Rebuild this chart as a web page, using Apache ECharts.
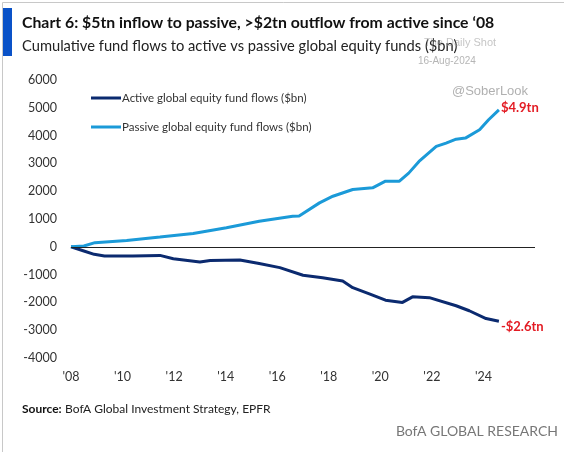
<!DOCTYPE html>
<html><head><meta charset="utf-8">
<script src="https://cdn.jsdelivr.net/npm/echarts@6/dist/echarts.min.js"></script>
<style>html,body{margin:0;padding:0;background:#fff}#c{width:564px;height:452px}</style>
</head><body><div id="c"></div>
<script>
const activeX = [2008.0,2008.5,2008.9,2009.3,2010.4,2011.45,2011.97,2013.0,2013.4,2014.55,2015.3,2016.1,2017.0,2017.76,2018.54,2018.93,2019.6,2020.2,2020.86,2021.25,2021.9,2022.94,2023.45,2024.1,2024.6];
const activeY = [0,-150,-270,-330,-330,-310,-430,-550,-490,-475,-600,-750,-1025,-1110,-1230,-1470,-1700,-1920,-2000,-1800,-1830,-2120,-2300,-2580,-2680];
const passiveX = [2008.0,2008.5,2008.93,2010.16,2011.45,2012.74,2014.03,2015.3,2016.6,2016.85,2017.64,2018.16,2018.93,2019.7,2020.2,2020.74,2021.1,2021.5,2022.17,2022.55,2022.94,2023.3,2023.85,2024.2,2024.6];
const passiveY = [0,30,150,230,350,480,685,920,1100,1110,1580,1820,2060,2120,2360,2360,2650,3070,3610,3730,3870,3910,4210,4570,4925];
const yTicks = [-4000,-3000,-2000,-1000,0,1000,2000,3000,4000,5000,6000];
const xTickYears = [2008,2010,2012,2014,2016,2018,2020,2022,2024];
const seriesNames = ['Active global equity fund flows ($bn)','Passive global equity fund flows ($bn)'];

const pair = (xs, ys) => xs.map((x, i) => [x, ys[i]]);
const FONT = 'Lato, "Open Sans", sans-serif';
const chart = echarts.init(document.getElementById('c'));
chart.setOption({
  animation: false,
  backgroundColor: '#fff',
  textStyle: {fontFamily: FONT},
  grid: {left: 71, right: 29, top: 80, bottom: 94, containLabel: false},
  xAxis: {
    type: 'value', min: 2008, max: 2026, interval: 2,
    axisLine: {show: false}, axisTick: {show: false}, splitLine: {show: false},
    axisLabel: {
      color: '#333', fontSize: 12.5, margin: 12, fontFamily: FONT,
      formatter: v => xTickYears.includes(v) ? "'" + String(v).slice(2) : ''
    }
  },
  yAxis: {
    type: 'value', min: yTicks[0], max: yTicks[yTicks.length - 1], interval: 1000,
    axisLine: {show: false}, axisTick: {show: false}, splitLine: {show: false},
    axisLabel: {color: '#333', fontSize: 12.5, margin: 14, fontFamily: FONT, formatter: v => String(v)}
  },
  legend: {
    orient: 'vertical', left: 86, top: 87, itemGap: 17, itemWidth: 30, itemHeight: 3,
    icon: 'rect', textStyle: {fontSize: 11.5, color: '#333', fontFamily: FONT, padding: [0,0,0,-4]},
    data: seriesNames
  },
  series: [
    {
      name: seriesNames[0], type: 'line', data: pair(activeX, activeY), showSymbol: false,
      lineStyle: {width: 3, color: '#0b2a6f'}, itemStyle: {color: '#0b2a6f'}, z: 3,
      markLine: {
        silent: true, symbol: 'none', label: {show: false},
        lineStyle: {color: '#222', width: 1, type: 'solid'},
        data: [{yAxis: 0}]
      },
      endLabel: {show: true, formatter: '-$2.6tn', color: '#e31b23', fontSize: 13, fontWeight: 'bold', distance: 2, offset: [0, 6], fontFamily: FONT}
    },
    {
      name: seriesNames[1], type: 'line', data: pair(passiveX, passiveY), showSymbol: false,
      lineStyle: {width: 3, color: '#1b9ad8'}, itemStyle: {color: '#1b9ad8'}, z: 4,
      endLabel: {show: true, formatter: '$4.9tn', color: '#e31b23', fontSize: 13, fontWeight: 'bold', distance: 2, offset: [0, -2], fontFamily: FONT}
    }
  ],
  graphic: [
    {type: 'rect', left: 0, top: 0, shape: {width: 563, height: 451}, style: {fill: 'none', stroke: '#c8c8c8', lineWidth: 1}, silent: true},
    {type: 'rect', left: 3, top: 8, shape: {width: 9, height: 48}, style: {fill: '#0a52c8'}},
    {type: 'text', left: 22, top: 15, style: {text: 'Chart 6: $5tn inflow to passive, >$2tn outflow from active since \u201808', fill: '#111', font: 'bold 15.8px ' + FONT}},
    {type: 'text', left: 22, top: 39, style: {text: 'Cumulative fund flows to active vs passive global equity funds ($bn)', fill: '#222', font: '14.7px ' + FONT}},
    {type: 'text', left: 424, top: 37, style: {text: 'The Daily Shot', fill: 'rgba(150,150,150,0.55)', font: '11px Arial, sans-serif'}},
    {type: 'text', left: 418, top: 56, style: {text: '16-Aug-2024', fill: 'rgba(150,150,150,0.7)', font: '10px Arial, sans-serif'}},
    {type: 'text', left: 452, top: 85, style: {text: '@SoberLook', fill: 'rgba(150,150,150,0.75)', font: '13px Arial, sans-serif'}},
    {type: 'text', left: 22, top: 403, style: {rich: {b: {font: 'bold 12px ' + FONT, fill: '#111'}, n: {font: '12px ' + FONT, fill: '#222'}}, text: '{b|Source:} {n|BofA Global Investment Strategy, EPFR}'}},
    {type: 'text', right: 6, top: 424, style: {text: 'BofA GLOBAL RESEARCH', fill: '#777', font: '14px ' + FONT}}
  ]
});
</script></body></html>
